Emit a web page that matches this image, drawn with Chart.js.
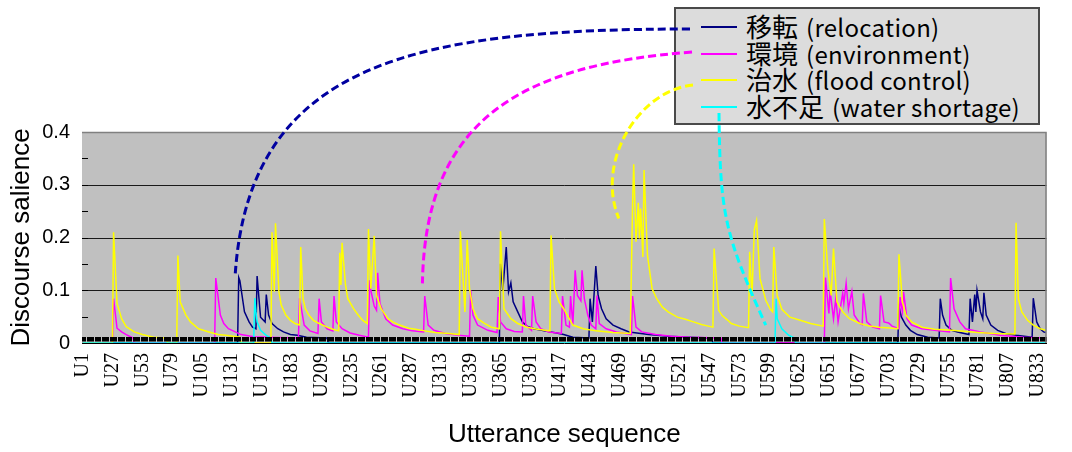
<!DOCTYPE html>
<html><head><meta charset="utf-8">
<script src="https://cdn.jsdelivr.net/npm/chart.js@4.4.1/dist/chart.umd.min.js"></script>
<style>
html,body{margin:0;padding:0;background:#fff;}
#wrap{position:relative;width:1072px;height:452px;overflow:hidden;}
#c{position:absolute;left:0;top:0;z-index:2;}
#legend{position:absolute;left:674px;top:7px;width:362px;height:114px;background:#DCDCDC;border:2px solid #4a4a4a;font-family:"Noto Sans CJK JP",sans-serif;color:#000;z-index:1;}
.sw{position:absolute;left:25px;width:36px;height:2px;}
.tx{position:absolute;left:70px;line-height:26px;white-space:nowrap;}
.cjk{font-size:26px;}
.lat{font-size:24px;margin-left:8px;letter-spacing:0.3px;}
</style></head>
<body>
<div id="wrap">
<div id="legend"></div>
<canvas id="c" width="1072" height="452"></canvas>
</div>
<script>
// ---- data ----
const tickLabels = ['U1','U27','U53','U79','U105','U131','U157','U183','U209','U235','U261','U287','U313','U339','U365','U391','U417','U443','U469','U495','U521','U547','U573','U599','U625','U651','U677','U703','U729','U755','U781','U807','U833'];
const seriesNames = ['移転 (relocation)','環境 (environment)','治水 (flood control)','水不足 (water shortage)'];
const seriesColors = ['#000080','#FF00FF','#FFFF00','#00FFFF'];

// [utterance index, salience]
const relocation = [[1,0],[136,0],[137,0.124],[138,0.118],[142,0.059],[146,0.04],[149,0.03],[152,0.027],[153,0.127],[156,0.049],[160,0.04],[161,0.092],[163,0.053],[166,0.037],[171,0.027],[176,0.021],[182,0.016],[188,0.0146],[196,0.011],[214,0.0095],[215,0],
[364,0],[365,0.15],[367,0.1],[370,0.182],[372,0.097],[374,0.114],[376,0.078],[380,0.059],[384,0.04],[388,0.032],[394,0.027],[403,0.023],[414,0.019],[420,0.016],[428,0.011],[442,0.0095],[443,0.084],[445,0.04],[448,0.146],[450,0.09],[453,0.065],[457,0.046],[463,0.034],[470,0.027],[477,0.021],[494,0.016],[511,0.013],[529,0.011],[549,0.0095],[550,0],
[711,0],[712,0.07],[714,0.05],[718,0.034],[722,0.024],[728,0.016],[737,0.011],[747,0.0095],[748,0.084],[750,0.053],[753,0.034],[758,0.024],[763,0.021],[773,0.016],[774,0.084],[776,0.04],[778,0.092],[779,0.059],[780,0.1],[783,0.059],[785,0.046],[786,0.095],[788,0.053],[792,0.034],[798,0.024],[805,0.018],[814,0.0146],[828,0.011],[829,0.085],[832,0.04],[835,0.027],[838,0.021],[840,0.02]];

const environment = [[1,0],[27,0],[28,0.084],[31,0.028],[35,0.021],[39,0.016],[45,0.0095],[46,0],[116,0],[117,0.123],[121,0.053],[124,0.037],[128,0.027],[134,0.021],[139,0.016],[150,0.012],[170,0.0105],[189,0.0095],[190,0.085],[194,0.034],[199,0.023],[206,0.018],[207,0.084],[209,0.04],[214,0.027],[219,0.023],[220,0.089],[222,0.04],[227,0.027],[234,0.019],[242,0.0146],[250,0.011],[251,0.119],[252,0.1],[255,0.07],[257,0.062],[258,0.133],[260,0.075],[265,0.046],[271,0.034],[280,0.027],[288,0.023],[298,0.021],[299,0.089],[302,0.034],[307,0.024],[317,0.018],[328,0.0146],[338,0.013],[339,0.1],[341,0.053],[345,0.034],[354,0.024],[362,0.02],[363,0.087],[365,0.04],[370,0.027],[377,0.022],[384,0.021],[385,0.089],[387,0.034],[392,0.024],[393,0.089],[396,0.04],[400,0.027],[407,0.021],[418,0.018],[419,0.089],[422,0.034],[425,0.03],[426,0.089],[428,0.034],[430,0.138],[432,0.09],[435,0.08],[436,0.138],[438,0.084],[441,0.053],[444,0.034],[448,0.027],[449,0.09],[451,0.037],[457,0.027],[466,0.021],[479,0.016],[480,0.089],[483,0.03],[488,0.021],[500,0.016],[514,0.013],[529,0.011],[557,0.0095],[558,0],
[647,0],[648,0.124],[651,0.056],[652,0.1],[655,0.046],[657,0.084],[659,0.04],[663,0.094],[664,0.075],[666,0.113],[668,0.065],[671,0.098],[673,0.053],[678,0.037],[680,0.035],[681,0.094],[684,0.04],[689,0.03],[695,0.027],[696,0.09],[699,0.04],[703,0.038],[706,0.032],[712,0.027],[713,0.087],[715,0.06],[716,0.097],[719,0.046],[723,0.034],[732,0.027],[743,0.024],[756,0.021],[757,0.123],[760,0.065],[765,0.04],[770,0.027],[783,0.021],[800,0.0146],[820,0.011],[840,0.0095]];

const floodControl = [[1,0],[27,0],[28,0.21],[31,0.075],[35,0.046],[39,0.031],[46,0.021],[53,0.016],[63,0.011],[74,0.0095],[75,0],[83,0],[84,0.166],[86,0.078],[91,0.053],[95,0.04],[102,0.027],[111,0.021],[119,0.016],[126,0.0146],[138,0.011],[139,0],[165,0],[166,0.21],[168,0.097],[169,0.227],[172,0.097],[174,0.072],[178,0.053],[182,0.043],[186,0.037],[190,0.034],[191,0.182],[193,0.084],[195,0.065],[198,0.053],[202,0.043],[207,0.037],[214,0.03],[219,0.026],[224,0.023],[225,0.171],[226,0.11],[227,0.19],[230,0.11],[232,0.084],[237,0.065],[241,0.053],[245,0.043],[249,0.037],[250,0.216],[252,0.103],[255,0.203],[257,0.09],[261,0.065],[267,0.046],[271,0.04],[277,0.034],[285,0.028],[291,0.026],[299,0.023],[308,0.02],[320,0.018],[329,0.016],[330,0.212],[334,0.059],[336,0.195],[338,0.103],[341,0.065],[345,0.046],[351,0.037],[357,0.03],[364,0.027],[365,0.212],[368,0.065],[374,0.046],[380,0.037],[388,0.03],[397,0.026],[408,0.023],[409,0.204],[412,0.103],[416,0.078],[420,0.065],[428,0.034],[437,0.027],[448,0.023],[463,0.02],[478,0.018],[480,0.261],[481,0.339],[483,0.192],[485,0.266],[486,0.198],[487,0.255],[489,0.163],[490,0.328],[493,0.166],[497,0.103],[501,0.084],[506,0.068],[511,0.059],[519,0.049],[526,0.045],[533,0.04],[540,0.035],[546,0.032],[550,0.03],[551,0.179],[555,0.062],[558,0.052],[563,0.043],[566,0.037],[573,0.032],[581,0.029],[582,0.173],[584,0.087],[586,0.214],[588,0.232],[591,0.122],[596,0.081],[600,0.064],[602,0.059],[603,0.182],[606,0.09],[610,0.064],[617,0.049],[626,0.043],[635,0.037],[646,0.032],[647,0.235],[650,0.141],[653,0.09],[655,0.179],[658,0.078],[663,0.059],[669,0.046],[678,0.037],[686,0.032],[695,0.03],[701,0.029],[711,0.027],[712,0.168],[715,0.078],[718,0.053],[723,0.04],[732,0.03],[743,0.026],[758,0.024],[781,0.02],[795,0.018],[813,0.017],[814,0.228],[816,0.084],[819,0.059],[824,0.043],[829,0.034],[835,0.027],[840,0.024]];

const waterShortage = [[1,0],[150,0],[151,0.085],[152,0.059],[153,0.04],[156,0.024],[161,0.0146],[165,0.0095],[166,0],[604,0],[605,0.084],[606,0.046],[610,0.027],[616,0.0146],[621,0.0095],[622,0],[840,0]];

// leader-line annotation targets [utterance index, salience]
const leaderTargets = [[134,0.132],[297,0.113],[468,0.236],[596,0.034]];

// ---- build ----
const tickPositions = tickLabels.map(l => +l.slice(1));
const allSeries = [relocation, environment, floodControl, waterShortage];

const legend = document.getElementById('legend');
seriesNames.forEach((n,k)=>{
  const y = 18 + k*26.7;
  const sw = document.createElement('div'); sw.className='sw'; sw.style.top=(y-1)+'px'; sw.style.background=seriesColors[k]; legend.appendChild(sw);
  const tx = document.createElement('div'); tx.className='tx'; tx.style.top=(y-14)+'px';
  const sp = n.indexOf(' ');
  const a = document.createElement('span'); a.className='cjk'; a.textContent=n.slice(0,sp);
  const b = document.createElement('span'); b.className='lat'; b.textContent=n.slice(sp+1);
  tx.appendChild(a); tx.appendChild(b);
  legend.appendChild(tx);
});

const chromePlugin = {
  id:'chrome',
  beforeDatasetsDraw(chart){
    const {ctx, chartArea:a} = chart;
    ctx.save(); ctx.fillStyle='#C0C0C0';
    ctx.fillRect(a.left, a.top, a.right-a.left, a.bottom-a.top);
    const y = chart.scales.y;
    ctx.strokeStyle='#1a1a1a'; ctx.lineWidth=1; ctx.beginPath();
    [0.1,0.2,0.3].forEach(v=>{const py=Math.round(y.getPixelForValue(v))+0.5; ctx.moveTo(a.left,py); ctx.lineTo(a.right,py);});
    ctx.stroke(); ctx.restore();
  },
  afterDatasetsDraw(chart){
    const {ctx, chartArea:a, scales:{x,y}} = chart;
    ctx.save();
    ctx.strokeStyle='#000'; ctx.lineWidth=1; ctx.beginPath();
    for(let k=0;k<=840;k++){const px=Math.round(x.getPixelForValue(k+0.5))+0.5; ctx.moveTo(px,a.bottom-6); ctx.lineTo(px,a.bottom-1.5);}
    ctx.stroke();
    ctx.beginPath();
    for(let k=0;k<=8;k++){const py=Math.round(y.getPixelForValue(k*0.05))+0.5; ctx.moveTo(a.left,py); ctx.lineTo(a.left+6,py);}
    ctx.stroke();
    ctx.strokeStyle='#808080'; ctx.lineWidth=1.5; ctx.beginPath();
    ctx.moveTo(a.left,a.top+0.5); ctx.lineTo(a.right-0.5,a.top+0.5); ctx.lineTo(a.right-0.5,a.bottom); ctx.stroke();
    ctx.restore();
  },
  afterDraw(chart){
    const {ctx, scales:{x,y}} = chart;
    const paths = [
      [[690,29],[420,29],[250,60]],
      [[692,52],[520,65],[425,120]],
      [[693,85],[640,90],[595,160]],
      [[719,113],[720,215],[725,235]]
    ];
    ctx.save(); ctx.lineWidth=3; ctx.setLineDash([8,4]);
    paths.forEach((p,k)=>{
      const ex = x.getPixelForValue(leaderTargets[k][0]), ey = y.getPixelForValue(leaderTargets[k][1]);
      ctx.strokeStyle = seriesColors[k] === '#000080' ? '#0000A0' : seriesColors[k];
      ctx.beginPath(); ctx.moveTo(p[0][0],p[0][1]);
      ctx.bezierCurveTo(p[1][0],p[1][1],p[2][0],p[2][1],ex,ey); ctx.stroke();
    });
    ctx.restore();
  }
};

new Chart(document.getElementById('c'), {
  type:'line',
  data:{datasets: allSeries.map((d,k)=>({
    label: seriesNames[k], data: d.map(([xv,yv])=>({x:xv,y:yv})),
    borderColor: seriesColors[k], backgroundColor: seriesColors[k], borderWidth:1.5,
    pointRadius:0, tension:0, fill:false, order:4-k
  }))},
  options:{
    responsive:false, animation:false, devicePixelRatio:1,
    layout:{padding:{left:6,right:14,top:132,bottom:0}},
    plugins:{legend:{display:false}, tooltip:{enabled:false}},
    scales:{
      x:{type:'linear', min:0.5, max:840.5,
        afterBuildTicks: s => { s.ticks = tickPositions.map(v=>({value:v})); },
        afterFit: s => { s.height = 109; },
        ticks:{autoSkip:false, maxRotation:90, minRotation:90, padding:10, color:'#000',
          font:{family:'"Liberation Serif", serif', size:20}, callback:(v,i)=>tickLabels[i]},
        grid:{display:false, drawTicks:false},
        border:{display:true, color:'#000', width:1},
        title:{display:true, text:'Utterance sequence', color:'#000',
          font:{family:'"Liberation Sans", Arial, sans-serif', size:26}, padding:{top:0,bottom:2}}
      },
      y:{min:0, max:0.4,
        afterFit: s => { s.width = 76; },
        ticks:{stepSize:0.1, padding:12, color:'#000', font:{family:'"Liberation Sans", Arial, sans-serif', size:20},
          callback:v=>String(Math.round(v*10)/10)},
        grid:{display:false, drawTicks:false},
        border:{display:true, color:'#000', width:1},
        title:{display:true, text:'Discourse salience', color:'#000',
          font:{family:'"Liberation Sans", Arial, sans-serif', size:26}, padding:{top:0,bottom:0}}
      }
    }
  },
  plugins:[chromePlugin]
});
</script>
</body></html>
